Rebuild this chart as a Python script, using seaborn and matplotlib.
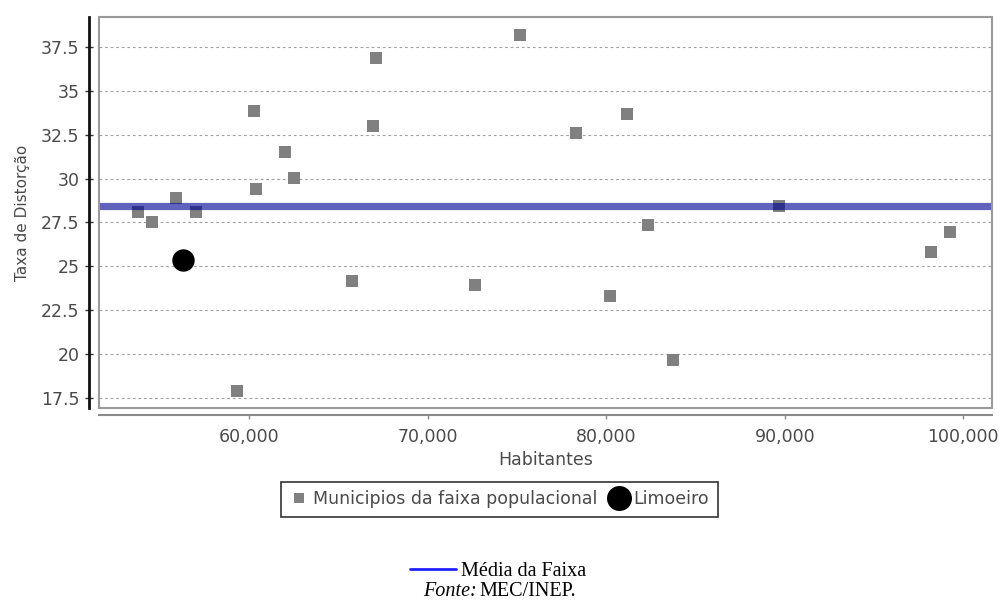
import matplotlib
matplotlib.use("Agg")
import matplotlib.pyplot as plt
from matplotlib.lines import Line2D
from matplotlib.patches import Rectangle
from matplotlib.ticker import FuncFormatter, FixedLocator
import seaborn as sns
import pandas as pd

# ---- data ----
habitantes = [53782, 54566, 55910, 57053, 59350, 60302, 60392, 62038, 62504,
              65771, 66930, 67098, 72661, 75148, 78319, 80224, 81176, 82336,
              83754, 89692, 98207, 99272]
taxa = [28.10, 27.51, 28.89, 28.10, 17.93, 33.84, 29.42, 31.51, 30.01,
        24.17, 33.01, 36.84, 23.93, 38.18, 32.59, 23.34, 33.69, 27.34,
        19.68, 28.44, 25.84, 26.94]
limoeiro_hab = [56303]
limoeiro_taxa = [25.37]
media_faixa = 28.44

y_ticks = [17.5, 20, 22.5, 25, 27.5, 30, 32.5, 35, 37.5]
x_ticks = [60000, 70000, 80000, 90000, 100000]

serie_label = "Municipios da faixa populacional"
limoeiro_label = "Limoeiro"
media_label = "Média da Faixa"

df = pd.DataFrame({"Habitantes": habitantes, "Taxa": taxa})
df_lim = pd.DataFrame({"Habitantes": limoeiro_hab, "Taxa": limoeiro_taxa})

sns.set_style("white")
plt.rcParams["font.family"] = ["DejaVu Sans"]

W, H = 1002, 605
fig = plt.figure(figsize=(W / 100, H / 100), dpi=100)
fig.patch.set_facecolor("white")
left, right, top, bottom = 99, 991.7, 17.3, 408.3
ax = fig.add_axes([left / W, 1 - bottom / H, (right - left) / W, (bottom - top) / H])

sns.scatterplot(data=df, x="Habitantes", y="Taxa", ax=ax, marker="s",
                s=70, color="#808080", linewidth=0, zorder=3, legend=False)
sns.scatterplot(data=df_lim, x="Habitantes", y="Taxa", ax=ax, marker="o",
                s=260, color="black", linewidth=0, zorder=3, legend=False)
ax.axhline(media_faixa, color="#000096", alpha=0.62, linewidth=5.2, zorder=4)

ax.set_xlim(51597, 101591)
ax.set_ylim(16.93, 39.17)

ax.yaxis.set_major_locator(FixedLocator(y_ticks))
ax.xaxis.set_major_locator(FixedLocator(x_ticks))
ax.yaxis.set_major_formatter(FuncFormatter(lambda v, p: f"{v:g}"))
ax.xaxis.set_major_formatter(FuncFormatter(lambda v, p: f"{int(v):,}"))

ax.grid(axis="y", color="#a0a0a0", linestyle=(0, (2.5, 2.5)), linewidth=0.8, zorder=1)
ax.grid(axis="x", visible=False)

# plot border box
ax.add_patch(Rectangle((0, 0), 1, 1, transform=ax.transAxes, fill=False,
                       edgecolor="#9a9a9a", linewidth=1.5, clip_on=False, zorder=5))
ax.spines["top"].set_visible(False)
ax.spines["right"].set_visible(False)
ax.spines["left"].set_position(("outward", 7))
ax.spines["left"].set_color("#111111")
ax.spines["left"].set_linewidth(2)
ax.spines["bottom"].set_position(("outward", 5))
ax.spines["bottom"].set_color("#8a8a8a")
ax.spines["bottom"].set_linewidth(1.5)

ax.tick_params(axis="y", direction="inout", length=6, width=1, color="#333333",
               labelsize=12.5, labelcolor="#4a4a4a", pad=4, left=True)
ax.tick_params(axis="x", direction="out", length=3, width=1, color="#8a8a8a",
               labelsize=12.5, labelcolor="#4a4a4a", pad=6, bottom=True)

ax.set_xlabel("Habitantes", fontsize=12.5, color="#4a4a4a", labelpad=4)
ax.set_ylabel("Taxa de Distorção", fontsize=11, color="#4a4a4a", labelpad=8)

# legend under the plot
handles = [Line2D([], [], marker="s", linestyle="none", color="#808080", markersize=7, markeredgewidth=0),
           Line2D([], [], marker="o", linestyle="none", color="black", markersize=18, markeredgewidth=0)]
leg = fig.legend(handles, [serie_label, limoeiro_label], loc="center",
                 bbox_to_anchor=(499.5 / W, 1 - 499.5 / H), ncol=2,
                 frameon=True, fancybox=False, edgecolor="black",
                 fontsize=12.5, handlelength=1.0, handletextpad=0.35,
                 columnspacing=0.7, borderpad=0.5, borderaxespad=0)
leg.get_frame().set_linewidth(1.2)
for t in leg.get_texts():
    t.set_color("#4a4a4a")

# caption: mean line legend + source
leg2 = fig.legend([Line2D([], [], color="#2020ff", linewidth=2)], [media_label],
                  loc="center", bbox_to_anchor=(498 / W, 1 - 571.5 / H),
                  frameon=False, handlelength=2.3, handletextpad=0.25,
                  prop={"family": "Liberation Serif", "size": 14.5})
for t in leg2.get_texts():
    t.set_color("black")
fig.text(477 / W, 1 - 592 / H, "Fonte:", ha="right", va="center",
         family="Liberation Serif", style="italic", fontsize=14.5, color="black")
fig.text(479 / W, 1 - 592 / H, "MEC/INEP.", ha="left", va="center",
         family="Liberation Serif", fontsize=14.5, color="black")

fig.savefig("out.png", dpi=100, facecolor="white")
